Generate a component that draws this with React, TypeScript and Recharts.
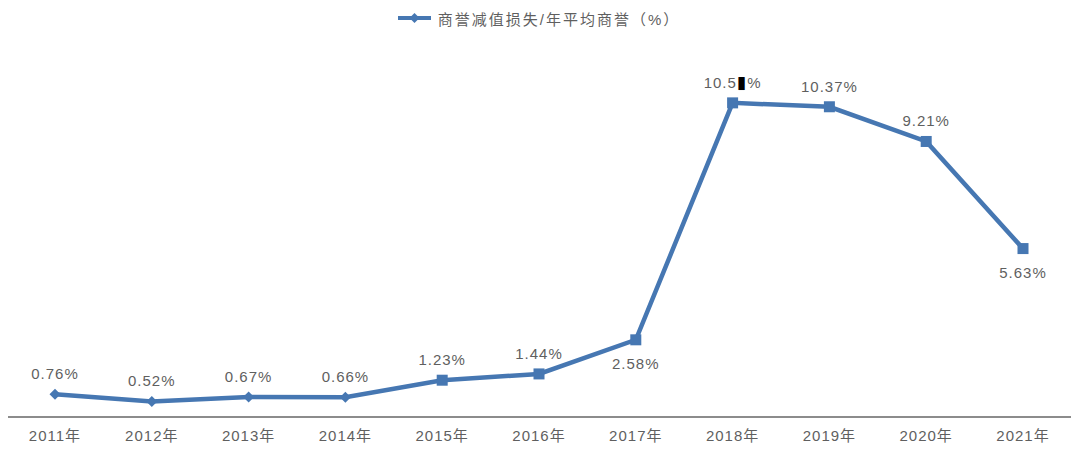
import React from 'react';
import { LineChart, Line, XAxis, YAxis, Legend, LabelList } from 'recharts';

const years = ['2011年', '2012年', '2013年', '2014年', '2015年', '2016年', '2017年', '2018年', '2019年', '2020年', '2021年'];
const ratios = [0.76, 0.52, 0.67, 0.66, 1.23, 1.44, 2.58, 10.5, 10.37, 9.21, 5.63];
const labelTexts = ['0.76%', '0.52%', '0.67%', '0.66%', '1.23%', '1.44%', '2.58%', '10.5▮%', '10.37%', '9.21%', '5.63%'];
const labelBelow = [false, false, false, false, false, false, true, false, false, false, true];
const diamondMarker = [true, true, true, true, false, false, false, false, false, false, false];
const seriesName = '商誉减值损失/年平均商誉（%）';

const data = years.map((y, i) => ({ year: y, ratio: ratios[i], label: labelTexts[i] }));

const COLOR = '#4677B2';
const TEXT = '#5f5f5f';
const FONT = '"Liberation Sans", Arial, "Noto Sans CJK SC", sans-serif';

const Dot = (props: any) => {
  const { cx, cy, index } = props;
  if (cx == null || cy == null) return null;
  if (diamondMarker[index]) {
    const r = 5.5;
    return <polygon key={index} points={`${cx},${cy - r} ${cx + r},${cy} ${cx},${cy + r} ${cx - r},${cy}`} fill={COLOR} />;
  }
  const s = 11;
  return <rect key={index} x={cx - s / 2} y={cy - s / 2} width={s} height={s} fill={COLOR} />;
};

const Label = (props: any) => {
  const { x, y, index } = props;
  const below = labelBelow[index];
  const txt: string = labelTexts[index];
  const parts = txt.split(/(▮)/);
  return (
    <text x={x} y={below ? y + 23 : y - 21} textAnchor="middle" dominantBaseline="central" fill={TEXT} fontSize={15} letterSpacing={1} fontFamily={FONT}>
      {parts.map((p, i) =>
        p === '▮' ? (
          <tspan key={i} fill="#000" fontFamily="DejaVu Sans" fontSize={17}>{p}</tspan>
        ) : (
          <tspan key={i}>{p}</tspan>
        )
      )}
    </text>
  );
};

const LegendContent = () => (
  <div style={{ display: 'flex', justifyContent: 'center', alignItems: 'center', fontFamily: FONT, fontSize: 15, letterSpacing: 2, color: TEXT, height: 20 }}>
    <svg width={33} height={12} style={{ marginRight: 7 }}>
      <line x1={0} y1={6} x2={33} y2={6} stroke={COLOR} strokeWidth={4} />
      <polygon points="16.5,1 21.5,6 16.5,11 11.5,6" fill={COLOR} />
    </svg>
    <span>{seriesName}</span>
  </div>
);

export default function App() {
  return (
    <div style={{ width: 1072, height: 449, fontFamily: FONT }}>
      <LineChart width={1072} height={449} data={data} margin={{ top: 30, right: 9, bottom: 10, left: -1 }}>
        <Legend verticalAlign="top" align="center" content={<LegendContent />} wrapperStyle={{ top: 0 }} />
        <XAxis
          dataKey="year"
          axisLine={{ stroke: '#8c8c8c', strokeWidth: 2 }}
          tickLine={false}
          tick={{ fill: TEXT, fontSize: 15, fontFamily: FONT, letterSpacing: 1 }}
          padding={{ left: 48, right: 48 }}
          height={30}
          tickMargin={7}
          interval={0}
        />
        <YAxis hide domain={[0, 12]} />
        <Line
          type="linear"
          dataKey="ratio"
          name={seriesName}
          stroke={COLOR}
          strokeWidth={4.5}
          dot={<Dot />}
          activeDot={false}
          isAnimationActive={false}
        >
          <LabelList dataKey="label" content={<Label />} />
        </Line>
      </LineChart>
    </div>
  );
}
